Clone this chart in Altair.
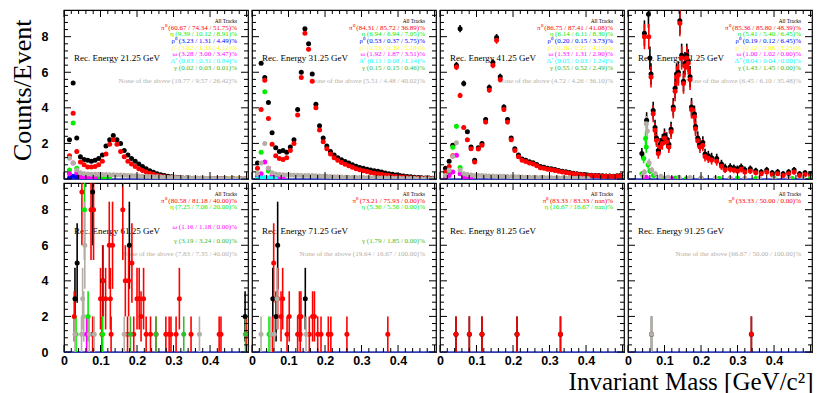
import altair as alt
import numpy as np
import pandas as pd

W, H = 184, 169
YMAX = 9.5
XMAX = 0.504

ENERGIES = ["21.25", "31.25", "41.25", "51.25", "61.25", "71.25", "81.25", "91.25"]
EVENTS = [20000, 2000, 200, 16, 1, 1, 1, 1]

BINS = [round(0.015 + 0.01 * i, 3) for i in range(49)]

# ---------------- panel 1 : 21.25 GeV ----------------
P1_ALL = [2.2, 5.4, 2.3, 1.25, 1.1, 1.05, 1.0, 1.05, 1.15, 1.35,
          1.85, 2.2, 2.45, 2.2, 2.0, 1.6, 1.35, 1.15, 1.0, 0.85,
          0.7, 0.58, 0.47, 0.38, 0.3, 0.24, 0.19, 0.15, 0.12, 0.1,
          0.08, 0.06, 0.05, 0.04, 0.03, 0.03, 0.02, 0.02, 0.02, 0.01,
          0.01, 0.01, 0.01, 0.01, 0.01, 0.01, 0.0, 0.0, 0.0]
P1_PI0 = [1.3, 3.7, 1.55, 0.95, 0.8, 0.68, 0.67, 0.7, 0.8, 1.0,
          1.4, 1.95, 2.2, 1.95, 1.55, 1.25, 1.0, 0.85, 0.7, 0.58,
          0.48, 0.4, 0.32, 0.26, 0.2, 0.16, 0.12, 0.1, 0.08, 0.06,
          0.05, 0.04, 0.03, 0.02, 0.02, 0.01, 0.01, 0.01, 0.01, 0.01,
          0.01, 0.01, 0.01, 0.0, 0.0, 0.0, 0.0, 0.0, 0.0]
P1_ETA = [0.5, 3.15, 0.6, 0.25, 0.12, 0.08, 0.06, 0.05, 0.05, 0.05, 0.04, 0.04]
P1_OMEGA = [0.3, 0.9, 0.35, 0.12, 0.06, 0.05, 0.04, 0.03]
P1_RHO0 = [0.05, 0.15, 0.1, 0.06, 0.04, 0.03, 0.03, 0.02]
P1_NONE = [1.17, 0.9, 0.5, 0.35, 0.3, 0.28, 0.27, 0.26, 0.26, 0.25,
           0.25, 0.24, 0.24, 0.23, 0.22, 0.21, 0.2, 0.19, 0.18, 0.17,
           0.16, 0.15, 0.14, 0.13, 0.12, 0.11, 0.1, 0.09, 0.08, 0.08,
           0.07, 0.07, 0.06, 0.06, 0.05, 0.05, 0.05, 0.04, 0.04, 0.04,
           0.03, 0.03, 0.03, 0.03, 0.02, 0.02, 0.02, 0.02, 0.02]
P1_RHOP_M = [0.455, 0.475]
P1_RHOP = [0.03, 0.03]

# ---------------- panel 2 : 31.25 GeV ----------------
P2_ALL = [0.9, 6.5, 5.7, 4.3, 2.6, 1.75, 1.55, 1.6, 1.5, 1.8,
          2.2, 3.9, 6.0, 8.45, 7.6, 5.9, 4.2, 3.0, 2.3, 1.85,
          1.55, 1.35, 1.2, 1.08, 0.98, 0.9, 0.8, 0.72, 0.65, 0.6,
          0.55, 0.5, 0.47, 0.44, 0.39, 0.34, 0.3, 0.26, 0.23, 0.2,
          0.17, 0.14, 0.12, 0.1, 0.08, 0.07, 0.06, 0.05, 0.04]
P2_PI0 = [0.6, 3.9, 5.55, 3.4, 1.95, 1.3, 1.15, 1.1, 1.2, 1.6,
          2.0, 3.6, 5.7, 8.2, 7.3, 5.5, 4.0, 2.75, 2.1, 1.7,
          1.4, 1.2, 1.05, 0.93, 0.83, 0.75, 0.66, 0.58, 0.52, 0.47,
          0.42, 0.37, 0.33, 0.3, 0.26, 0.22, 0.19, 0.16, 0.14, 0.12,
          0.1, 0.08, 0.07, 0.06, 0.05, 0.04, 0.03, 0.03, 0.02]
P2_ETA = [0.3, 1.5, 4.9, 0.45, 0.15, 0.08, 0.06, 0.05]
P2_OMEGA = [0.15, 0.3, 0.95, 0.6, 0.2, 0.08, 0.05, 0.04]
P2_DELTA = [0.02, 0.05, 0.08, 0.05, 0.03, 0.02]
P2_NONE = [0.3, 0.9, 2.0, 0.6, 0.35, 0.28, 0.25, 0.24, 0.23, 0.22,
           0.21, 0.21, 0.2, 0.2, 0.19, 0.19, 0.18, 0.17, 0.16, 0.15,
           0.14, 0.13, 0.12, 0.11, 0.1, 0.1, 0.09, 0.09, 0.08, 0.08,
           0.07, 0.07, 0.06, 0.06, 0.05, 0.05, 0.05, 0.04, 0.04, 0.04,
           0.03, 0.03, 0.03, 0.03, 0.02, 0.02, 0.02, 0.02, 0.02]

# ---------------- panel 3 : 41.25 GeV ----------------
P3_ALL = [0.6, 1.0, 1.9, 6.4, 8.45, 5.37, 2.65, 1.8, 1.05, 1.75,
          2.0, 3.35, 5.15, 6.55, 7.95, 5.75, 4.05, 3.35, 2.3, 1.7,
          1.35, 1.12, 1.05, 0.97, 0.92, 0.82, 0.7, 0.66, 0.6, 0.57,
          0.53, 0.48, 0.44, 0.41, 0.36, 0.33, 0.29, 0.27, 0.25, 0.23,
          0.21, 0.2, 0.19, 0.18, 0.17, 0.17, 0.16, 0.18, 0.21]
P3_PI0 = [0.4, 0.7, 1.3, 6.3, 4.7, 2.9, 2.2, 1.7, 0.95, 1.68,
          1.9, 3.2, 5.0, 6.4, 7.8, 5.6, 3.9, 3.2, 2.2, 1.6,
          1.25, 1.05, 0.98, 0.9, 0.85, 0.75, 0.63, 0.6, 0.55, 0.52,
          0.48, 0.44, 0.4, 0.37, 0.33, 0.3, 0.26, 0.24, 0.22, 0.2,
          0.19, 0.18, 0.17, 0.16, 0.15, 0.15, 0.14, 0.16, 0.19]
P3_ETA = [0.1, 0.3, 1.78, 2.96, 0.65, 0.2, 0.1, 0.06]
P3_OMEGA = [0.05, 0.2, 0.4, 1.33, 0.3, 0.1, 0.05, 0.04]
P3_NONE = [0.2, 0.5, 1.26, 2.04, 0.5, 0.3, 0.25, 0.22, 0.2, 0.2,
           0.19, 0.18, 0.17, 0.17, 0.16, 0.15, 0.15, 0.14, 0.13, 0.12,
           0.12, 0.11, 0.1, 0.1, 0.09, 0.09, 0.08, 0.08, 0.07, 0.07,
           0.06, 0.06, 0.05, 0.05, 0.05, 0.04, 0.04, 0.04, 0.03, 0.03]

# ---------------- panel 4 : 51.25 GeV ----------------
P4_ALL_M = [0.038, 0.045, 0.051, 0.056, 0.06, 0.063, 0.069, 0.074, 0.078, 0.083,
            0.088, 0.094, 0.1, 0.106, 0.112, 0.118, 0.124, 0.129, 0.133, 0.138,
            0.142, 0.147, 0.152, 0.156, 0.161, 0.165, 0.17, 0.174, 0.182, 0.185,
            0.191, 0.197, 0.205, 0.211, 0.22, 0.229, 0.243, 0.256, 0.266, 0.28,
            0.29, 0.3, 0.31, 0.32, 0.335, 0.35, 0.365, 0.38, 0.395, 0.41,
            0.425, 0.44, 0.455, 0.47, 0.485, 0.5]
P4_ALL = [1.44, 8.2, 3.3, 9.26, 6.8, 5.9, 3.85, 2.9, 2.3, 1.6,
          1.95, 2.15, 2.45, 2.25, 1.95, 2.8, 4.05, 5.1, 5.9, 6.0,
          8.9, 6.95, 5.5, 6.5, 6.95, 6.65, 5.75, 4.05, 3.65, 2.95,
          2.3, 1.95, 2.05, 1.4, 1.3, 1.2, 1.15, 0.85, 0.65, 0.68,
          0.62, 0.57, 0.67, 0.52, 0.57, 0.46, 0.4, 0.5, 0.35, 0.4,
          0.3, 0.4, 0.5, 0.3, 0.35, 0.3]
P4_PI0_M = [0.045, 0.057, 0.063, 0.069, 0.074, 0.078, 0.083, 0.088, 0.094, 0.1,
            0.106, 0.112, 0.118, 0.124, 0.129, 0.133, 0.138, 0.142, 0.147, 0.152,
            0.156, 0.161, 0.165, 0.17, 0.174, 0.182, 0.185, 0.191, 0.197, 0.205,
            0.211, 0.22, 0.229, 0.243, 0.256, 0.266, 0.28, 0.29, 0.3, 0.31,
            0.32, 0.335, 0.35, 0.365, 0.38, 0.395, 0.41, 0.425, 0.44, 0.455,
            0.47, 0.485, 0.5]
P4_PI0 = [8.0, 8.0, 5.74, 3.67, 2.74, 2.18, 1.44, 1.8, 2.0, 2.3,
          2.1, 1.8, 2.65, 3.9, 4.93, 5.74, 5.85, 8.76, 6.8, 5.37,
          6.35, 6.8, 6.5, 5.6, 3.9, 3.5, 2.83, 2.15, 1.8, 1.9,
          1.26, 1.17, 1.07, 1.0, 0.72, 0.52, 0.55, 0.5, 0.45, 0.55,
          0.4, 0.45, 0.35, 0.3, 0.4, 0.25, 0.3, 0.2, 0.3, 0.4,
          0.2, 0.25, 0.2]
P4_ETA_M = [0.038, 0.043, 0.048, 0.05, 0.055, 0.06, 0.07, 0.1, 0.13, 0.16,
            0.2, 0.25, 0.3, 0.35, 0.4, 0.45, 0.5]
P4_ETA = [0.3, 1.15, 2.28, 1.8, 0.8, 0.45, 0.2, 0.05, 0.05, 0.03,
          0.05, 0.03, 0.05, 0.03, 0.05, 0.03, 0.05]
P4_OMEGA_M = [0.05, 0.12, 0.2, 0.28, 0.36, 0.44]
P4_OMEGA = [0.1, 0.03, 0.03, 0.03, 0.03, 0.03]
P4_NONE_M = [0.04, 0.045, 0.05, 0.053, 0.058, 0.065, 0.075, 0.09, 0.11, 0.14,
             0.17, 0.2, 0.24, 0.28, 0.32, 0.36, 0.4, 0.44, 0.48]
P4_NONE = [0.2, 0.4, 3.1, 2.7, 0.9, 0.5, 0.3, 0.15, 0.1, 0.1,
           0.08, 0.06, 0.05, 0.05, 0.04, 0.04, 0.03, 0.03, 0.03]

# ---------------- panel 5 : 61.25 GeV ----------------
P5_ALL_M = [0.03, 0.036, 0.0785, 0.106, 0.179, 0.496]
P5_ALL = [3, 5, 9, 4, 6, 2]
P5_PI0_M = [0.028, 0.049, 0.074, 0.081, 0.161, 0.124, 0.133, 0.186, 0.168, 0.177,
            0.1, 0.107, 0.114, 0.127, 0.2, 0.206, 0.218, 0.316, 0.211, 0.0785,
            0.104, 0.129, 0.174, 0.191, 0.225, 0.237, 0.252, 0.279, 0.288, 0.293,
            0.307, 0.348, 0.425, 0.43, 0.499]
P5_PI0 = [2, 9, 8, 8, 8, 6, 6, 5, 4, 4,
          3, 4, 3, 3, 3, 3, 3, 3, 2, 1,
          1, 1, 1, 1, 1, 1, 1, 1, 1, 1,
          1, 1, 1, 1, 1]
P5_ETA_M = [0.033, 0.056, 0.066, 0.106]
P5_ETA = [1, 8, 2, 1]
P5_GAMMA_M = [0.182, 0.252, 0.328, 0.497]
P5_GAMMA = [1, 1, 1, 1]
P5_OMEGA_M = [0.062]
P5_OMEGA = [1]
P5_NONE_M = [0.03, 0.048, 0.051, 0.054, 0.057, 0.069, 0.083, 0.165, 0.371]
P5_NONE = [1, 1, 3, 2, 6, 1, 1, 1, 1]

# ---------------- panel 6 : 71.25 GeV ----------------
P6_ALL_M = [0.057, 0.066, 0.0703, 0.146]
P6_ALL = [3, 2, 6, 3]
P6_PI0_M = [0.0594, 0.0703, 0.084, 0.0795, 0.102, 0.13, 0.134, 0.166, 0.171, 0.057,
            0.096, 0.125, 0.132, 0.157, 0.18, 0.189, 0.209, 0.216, 0.26, 0.372]
P6_PI0 = [5, 3, 3, 2, 2, 2, 2, 2, 2, 1,
          1, 1, 1, 1, 1, 1, 1, 1, 1, 1]
P6_ETA_M = [0.0466]
P6_ETA = [1]
P6_NONE_M = [0.0247, 0.052, 0.061, 0.0685, 0.148]
P6_NONE = [1, 1, 1, 3, 1]

# ---------------- panel 7 : 81.25 GeV ----------------
P7_PI0_M = [0.0438, 0.0804, 0.115, 0.211, 0.33]
P7_PI0 = [1, 1, 1, 1, 1]

# ---------------- panel 8 : 91.25 GeV ----------------
P8_PI0_M = [0.338]
P8_PI0 = [1]
P8_NONE_M = [0.0644]
P8_NONE = [1]

SERIES = [
    [("all", BINS, P1_ALL), ("pi0", BINS, P1_PI0), ("eta", BINS[:12], P1_ETA),
     ("rho0", BINS[:8], P1_RHO0), ("rhop", P1_RHOP_M, P1_RHOP),
     ("omega", BINS[:8], P1_OMEGA), ("none", BINS, P1_NONE)],
    [("all", BINS, P2_ALL), ("pi0", BINS, P2_PI0), ("eta", BINS[:8], P2_ETA),
     ("omega", BINS[:8], P2_OMEGA), ("delta", BINS[:6], P2_DELTA), ("none", BINS, P2_NONE)],
    [("all", BINS, P3_ALL), ("pi0", BINS, P3_PI0), ("eta", BINS[:8], P3_ETA),
     ("omega", BINS[:8], P3_OMEGA), ("none", BINS[:40], P3_NONE)],
    [("all", P4_ALL_M, P4_ALL), ("pi0", P4_PI0_M, P4_PI0), ("eta", P4_ETA_M, P4_ETA),
     ("omega", P4_OMEGA_M, P4_OMEGA), ("none", P4_NONE_M, P4_NONE)],
    [("all", P5_ALL_M, P5_ALL), ("pi0", P5_PI0_M, P5_PI0), ("eta", P5_ETA_M, P5_ETA),
     ("omega", P5_OMEGA_M, P5_OMEGA), ("gamma", P5_GAMMA_M, P5_GAMMA), ("none", P5_NONE_M, P5_NONE)],
    [("all", P6_ALL_M, P6_ALL), ("pi0", P6_PI0_M, P6_PI0), ("eta", P6_ETA_M, P6_ETA),
     ("none", P6_NONE_M, P6_NONE)],
    [("all", P7_PI0_M, P7_PI0), ("pi0", P7_PI0_M, P7_PI0)],
    [("all", P8_NONE_M + P8_PI0_M, P8_NONE + P8_PI0), ("pi0", P8_PI0_M, P8_PI0),
     ("none", P8_NONE_M, P8_NONE)],
]

FRACTIONS = [
    {"pi0": "60.67 / 74.34 / 51.75", "eta": "9.39 / 10.12 / 8.91", "rho0": "3.23 / 1.31 / 4.49",
     "rhop": "3.02 / 1.33 / 4.12", "omega": "3.28 / 3.00 / 3.47", "delta": "0.63 / 0.31 / 0.84",
     "gamma": "0.02 / 0.03 / 0.01", "none": "19.77 / 9.57 / 26.42"},
    {"pi0": "84.31 / 85.72 / 36.89", "eta": "6.94 / 6.94 / 7.05", "rho0": "0.53 / 0.37 / 5.75",
     "rhop": "0.53 / 0.39 / 5.18", "omega": "1.92 / 1.87 / 3.51", "delta": "0.11 / 0.08 / 1.14",
     "gamma": "0.15 / 0.15 / 0.46", "none": "5.51 / 4.48 / 40.02"},
    {"pi0": "86.75 / 87.41 / 41.08", "eta": "6.14 / 6.11 / 8.30", "rho0": "0.20 / 0.15 / 3.73",
     "rhop": "0.26 / 0.21 / 4.15", "omega": "1.33 / 1.31 / 2.90", "delta": "0.05 / 0.03 / 1.24",
     "gamma": "0.55 / 0.52 / 2.49", "none": "4.72 / 4.26 / 36.10"},
    {"pi0": "85.36 / 85.80 / 48.39", "eta": "5.41 / 5.40 / 6.45", "rho0": "0.19 / 0.12 / 6.45",
     "rhop": "0.12 / 0.08 / 3.23", "omega": "1.00 / 1.02 / 0.00", "delta": "0.04 / 0.04 / 0.00",
     "gamma": "1.43 / 1.45 / 0.00", "none": "6.45 / 6.10 / 35.48"},
    {"pi0": "80.58 / 81.18 / 40.00", "eta": "7.25 / 7.06 / 20.00", "omega": "1.16 / 1.18 / 0.00",
     "gamma": "3.19 / 3.24 / 0.00", "none": "7.83 / 7.35 / 40.00"},
    {"pi0": "73.21 / 75.93 / 0.00", "eta": "5.36 / 5.56 / 0.00", "gamma": "1.79 / 1.85 / 0.00",
     "none": "19.64 / 16.67 / 100.00"},
    {"pi0": "83.33 / 83.33 / nan", "eta": "16.67 / 16.67 / nan"},
    {"pi0": "33.33 / 50.00 / 0.00", "none": "66.67 / 50.00 / 100.00"},
]

PREFIX = {"pi0": "π⁰", "eta": "η", "rho0": "ρ⁰", "rhop": "ρ⁺", "omega": "ω",
          "delta": "Δ⁺", "gamma": "γ", "none": "None of the above"}
COLORS = {"all": "#000000", "pi0": "#ff0000", "eta": "#00ee00", "rho0": "#0000ff",
          "rhop": "#ffff00", "omega": "#ff00ff", "delta": "#00ffff", "gamma": "#33bb33",
          "none": "#b5aea6"}
DRAW_ORDER = ["all", "pi0", "eta", "rho0", "rhop", "omega", "delta", "gamma", "none"]
SLOT_Y = {"pi0": 17.7, "eta": 24.3, "rho0": 31.0, "rhop": 37.7, "omega": 44.3,
          "delta": 51.0, "gamma": 57.7, "none": 71.0}

Y_LABELS = [0, 2, 4, 6, 8]
Y_MINOR = [0.4, 0.8, 1.2, 1.6, 2.4, 2.8, 3.2, 3.6, 4.4, 4.8, 5.2, 5.6,
           6.4, 6.8, 7.2, 7.6, 8.4, 8.8, 9.2]
X_LABELS = [0, 0.1, 0.2, 0.3, 0.4]
X_MAJOR = [0, 0.1, 0.2, 0.3, 0.4, 0.5]
X_MINOR = [0.02, 0.04, 0.06, 0.08, 0.12, 0.14, 0.16, 0.18, 0.22, 0.24, 0.26, 0.28,
           0.32, 0.34, 0.36, 0.38, 0.42, 0.44, 0.46, 0.48]

xs = alt.Scale(domain=[0, XMAX], nice=False, zero=False)
ys = alt.Scale(domain=[0, YMAX], nice=False, zero=False)


def text_layer(txt, x, y, color, size, align):
    return alt.Chart(pd.DataFrame({"s": [txt]})).mark_text(
        align=align, baseline="middle", font="Liberation Serif", fontSize=size, color=color
    ).encode(text="s:N", x=alt.value(x), y=alt.value(y))


def ytick(vals, L, side, yaxis):
    ch = alt.Chart(pd.DataFrame({"t": vals})).mark_rule(color="black", strokeWidth=1)
    if side == "left":
        return ch.encode(y=alt.Y("t:Q", scale=ys, axis=yaxis), x=alt.value(0), x2=alt.value(L))
    return ch.encode(y=alt.Y("t:Q", scale=ys, axis=yaxis), x=alt.value(W), x2=alt.value(W - L))


def xtick(vals, L, side, xaxis):
    ch = alt.Chart(pd.DataFrame({"t": vals})).mark_rule(color="black", strokeWidth=1)
    if side == "bottom":
        return ch.encode(x=alt.X("t:Q", scale=xs, axis=xaxis), y=alt.value(H), y2=alt.value(H - L))
    return ch.encode(x=alt.X("t:Q", scale=xs, axis=xaxis), y=alt.value(0), y2=alt.value(L))


def make_panel(i):
    row, col = divmod(i, 4)
    recs = []
    for key, ms, vs in SERIES[i]:
        for m, v in zip(ms, vs):
            e = float(np.sqrt(v / EVENTS[i]))
            recs.append({"m": m, "v": v, "lo": max(v - e, 0.0), "hi": v + e,
                         "c": COLORS[key], "o": DRAW_ORDER.index(key)})
    df = pd.DataFrame(recs).sort_values("o", kind="stable").reset_index(drop=True)

    if row == 1:
        xkw = dict(values=X_LABELS, format=".1~f", labelFont="Liberation Sans",
                   labelFontWeight="bold", labelFontSize=12.5, labelColor="black",
                   labelPadding=2, domain=False, ticks=False, grid=False, labelFlush=False)
        if i == 7:
            xkw.update(title="Invariant Mass [GeV/c²]", titleFont="Liberation Serif",
                       titleFontSize=25, titleFontWeight="normal", titleColor="black",
                       titleAlign="right", titleBaseline="alphabetic", titleX=W + 1, titleY=37)
        else:
            xkw.update(title="")
        xaxis = alt.Axis(**xkw)
    else:
        xaxis = None

    if col == 0:
        ykw = dict(values=Y_LABELS, format="d", labelFont="Liberation Sans",
                   labelFontWeight="bold", labelFontSize=12.5, labelColor="black",
                   labelPadding=16, domain=False, ticks=False, grid=False)
        if row == 0:
            ykw.update(title="Counts/Event", titleFont="Liberation Serif", titleFontSize=26,
                       titleFontWeight="normal", titleColor="black", titleAngle=270,
                       titleAlign="right", titleBaseline="middle", titleX=-42, titleY=9)
        else:
            ykw.update(title="")
        yaxis = alt.Axis(**ykw)
    else:
        yaxis = None

    base = alt.Chart(df)
    zero = alt.Chart(pd.DataFrame({"z": [0.0]})).mark_rule(
        color="#4050e0", strokeWidth=1.5).encode(y=alt.Y("z:Q", scale=ys, axis=yaxis))
    err = base.mark_rule(strokeWidth=1.6, clip=True).encode(
        x=alt.X("m:Q", scale=xs, axis=xaxis),
        y=alt.Y("lo:Q", scale=ys, axis=yaxis), y2="hi:Q",
        color=alt.Color("c:N", scale=None))
    pts = base.mark_circle(size=25, opacity=1, clip=True).encode(
        x=alt.X("m:Q", scale=xs, axis=xaxis),
        y=alt.Y("v:Q", scale=ys, axis=yaxis),
        color=alt.Color("c:N", scale=None))

    ticks = [ytick(Y_LABELS, 7, "left", yaxis), ytick(Y_MINOR, 4, "left", yaxis),
             ytick(Y_LABELS, 7, "right", yaxis), ytick(Y_MINOR, 4, "right", yaxis),
             xtick(X_MAJOR, 7, "bottom", xaxis), xtick(X_MINOR, 4, "bottom", xaxis),
             xtick(X_MAJOR, 7, "top", xaxis), xtick(X_MINOR, 4, "top", xaxis)]

    texts = [text_layer("Rec. Energy " + ENERGIES[i] + " GeV", 10, 47.5, "black", 9, "left"),
             text_layer("All Tracks", W - 11, 11, "black", 5.3, "right")]
    for key, frac in FRACTIONS[i].items():
        texts.append(text_layer(PREFIX[key] + " (" + frac + ")%", W - 11, SLOT_Y[key],
                                COLORS[key], 7, "right"))

    return alt.layer(*texts, zero, err, pts, *ticks).properties(width=W, height=H)


panels = [make_panel(i) for i in range(8)]
chart = alt.concat(*panels, columns=4, spacing=4, bounds="flush").properties(
    padding=0
).configure_view(stroke="black", strokeWidth=1.2).configure_axis(grid=False)

chart.save("out.html", embed_options={"renderer": "svg", "actions": False})
